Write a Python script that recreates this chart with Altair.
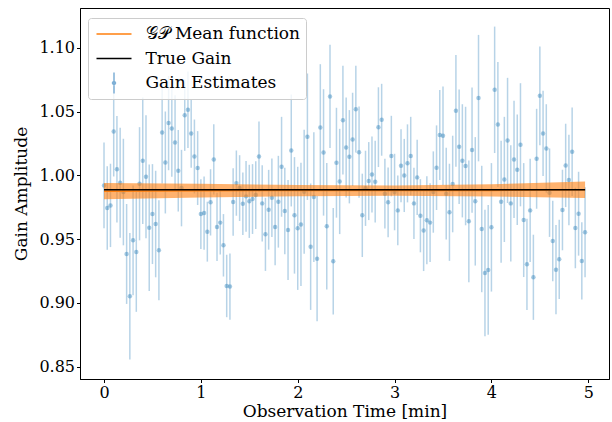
import altair as alt
import pandas as pd

# ---- data ----
time_s = [
    0, 2, 4, 6, 8, 10, 12, 14, 16, 18, 20, 22, 24, 26, 28, 30, 32, 34, 36, 38,
    40, 42, 44, 46, 48, 50, 52, 54, 56, 58, 60, 62, 64, 66, 68, 70, 72, 74, 76, 78,
    80, 82, 84, 86, 88, 90, 92, 94, 96, 98, 100, 102, 104, 106, 108, 110, 112, 114, 116, 118,
    120, 122, 124, 126, 128, 130, 132, 134, 136, 138, 140, 142, 144, 146, 148, 150, 152, 154, 156, 158,
    160, 162, 164, 166, 168, 170, 172, 174, 176, 178, 180, 182, 184, 186, 188, 190, 192, 194, 196, 198,
    200, 202, 204, 206, 208, 210, 212, 214, 216, 218, 220, 222, 224, 226, 228, 230, 232, 234, 236, 238,
    240, 242, 244, 246, 248, 250, 252, 254, 256, 258, 260, 262, 264, 266, 268, 270, 272, 274, 276, 278,
    280, 282, 284, 286, 288, 290, 292, 294, 296, 298,
]

gain_est = [
    0.9921, 0.9744, 0.9764, 1.0344, 1.0047, 0.9942, 0.9869, 0.9383, 0.9051, 0.9490,
    0.9399, 0.9934, 1.0114, 0.9989, 0.9589, 0.9696, 0.9618, 0.9412, 1.0336, 1.0101,
    1.0410, 1.0368, 1.0258, 1.0036, 0.9900, 1.0472, 1.0514, 1.0329, 1.0148, 1.0057,
    0.9696, 0.9704, 0.9558, 0.9788, 1.0125, 0.9595, 0.9629, 0.9451, 0.9132, 0.9127,
    0.9791, 0.9939, 0.9900, 0.9777, 0.9835, 0.9796, 0.9814, 0.9845, 1.0148, 0.9780,
    0.9537, 0.9730, 0.9824, 0.9595, 0.9793, 1.0067, 0.9720, 0.9571, 1.0195, 0.9686,
    0.9584, 0.9615, 0.9871, 1.0303, 0.9440, 0.9830, 0.9346, 1.0376, 1.0180, 0.9600,
    1.0619, 0.9326, 1.0099, 0.9952, 1.0433, 1.0219, 1.0146, 1.0282, 1.0519, 1.0182,
    0.9686, 0.9898, 0.9955, 1.0007, 0.9950, 1.0378, 1.0436, 0.9856, 0.9788, 1.0151,
    0.9869, 0.9725, 1.0075, 0.9999, 1.0094, 1.0151, 0.9780, 0.9984, 0.9683, 0.9568,
    0.9647, 0.9629, 0.9869, 1.0060, 1.0316, 1.0310, 0.9856, 0.9710, 0.9932, 1.0506,
    1.0224, 1.0114, 1.0073, 0.9639, 1.0198, 0.9796, 1.0606, 0.9579, 0.9234, 0.9258,
    0.9592, 1.0671, 1.0399, 0.9793, 0.9968, 1.0274, 0.9780, 1.0125, 1.0044, 1.0240,
    0.9649, 0.9302, 0.9725, 0.9200, 1.0130, 1.0624, 1.0329, 1.0211, 0.9864, 0.9485,
    0.9260, 0.9341, 0.9728, 1.0078, 0.9963, 1.0185, 0.9587, 0.9699, 0.9328, 0.9553,
]

gain_err = [
    0.0337, 0.0327, 0.0327, 0.0353, 0.0418, 0.0431, 0.0418, 0.0392, 0.0496, 0.0431,
    0.0470, 0.0444, 0.0496, 0.0483, 0.0496, 0.0392, 0.0418, 0.0392, 0.0400, 0.0400,
    0.0370, 0.0380, 0.0370, 0.0320, 0.0300, 0.0280, 0.0300, 0.0270, 0.0290, 0.0290,
    0.0274, 0.0287, 0.0235, 0.0260, 0.0275, 0.0268, 0.0250, 0.0245, 0.0245, 0.0260,
    0.0265, 0.0256, 0.0258, 0.0245, 0.0278, 0.0287, 0.0274, 0.0266, 0.0274, 0.0300,
    0.0287, 0.0313, 0.0308, 0.0300, 0.0360, 0.0392, 0.0340, 0.0392, 0.0439, 0.0457,
    0.0483, 0.0483, 0.0486, 0.0496, 0.0496, 0.0509, 0.0491, 0.0496, 0.0496, 0.0496,
    0.0405, 0.0418, 0.0431, 0.0413, 0.0426, 0.0392, 0.0366, 0.0366, 0.0340, 0.0358,
    0.0327, 0.0295, 0.0306, 0.0298, 0.0321, 0.0313, 0.0282, 0.0274, 0.0274, 0.0316,
    0.0300, 0.0274, 0.0287, 0.0287, 0.0306, 0.0308, 0.0280, 0.0295, 0.0287, 0.0319,
    0.0345, 0.0308, 0.0319, 0.0332, 0.0353, 0.0387, 0.0360, 0.0381, 0.0379, 0.0439,
    0.0449, 0.0444, 0.0465, 0.0478, 0.0491, 0.0504, 0.0496, 0.0496, 0.0496, 0.0509,
    0.0504, 0.0496, 0.0491, 0.0478, 0.0491, 0.0491, 0.0457, 0.0460, 0.0434, 0.0483,
    0.0447, 0.0358, 0.0405, 0.0334, 0.0392, 0.0387, 0.0334, 0.0347, 0.0347, 0.0316,
    0.0350, 0.0311, 0.0316, 0.0327, 0.0355, 0.0347, 0.0316, 0.0329, 0.0303, 0.0353,
]

# GP mean function and its uncertainty band
band_t = [0.0, 1.0, 2.0, 3.0, 4.0, 4.967]
band_lo = [0.9812, 0.9826, 0.9836, 0.9840, 0.9834, 0.9822]
band_hi = [0.9940, 0.9934, 0.9925, 0.9921, 0.9930, 0.9952]
gp_mean = [0.9876, 0.9880, 0.9881, 0.9881, 0.9882, 0.9887]

# true gain (constant)
true_t = [0.0, 4.967]
true_gain = [0.9887, 0.9887]

legend_labels = ["\U0001D4A2\U0001D4AB Mean function", "True Gain", "Gain Estimates"]
legend_colors = ["#ff7f0e", "#000000", "#7fb0d6"]
legend_shapes = [
    "M-3.5,0L3.5,0",
    "M-3.5,0L3.5,0",
    "M0,-2.1L0,2.1M0.3,0A0.3,0.3,0,1,1,-0.3,0A0.3,0.3,0,1,1,0.3,0",
]

x_ticks = [0, 1, 2, 3, 4, 5]
y_ticks = [0.85, 0.90, 0.95, 1.00, 1.05, 1.10]

# ---- tables ----
est = pd.DataFrame({
    "t": [s / 60 for s in time_s],
    "g": gain_est,
    "e": gain_err,
})
est["lo"] = est["g"] - est["e"]
est["hi"] = est["g"] + est["e"]

band = pd.DataFrame({"t": band_t, "lo": band_lo, "hi": band_hi, "m": gp_mean})
truth = pd.DataFrame({"t": true_t, "g": true_gain})
leg = pd.DataFrame({"series": legend_labels, "t": [2.0, 2.0, 2.0], "g": [1.0, 1.0, 1.0]})

FONT = "DejaVu Serif"
xs = alt.Scale(domain=[-0.248, 5.214], nice=False, zero=False)
ys = alt.Scale(domain=[0.8402, 1.1313], nice=False, zero=False)

x_axis = alt.Axis(values=x_ticks, format="d", title="Observation Time [min]", grid=False)
y_axis = alt.Axis(values=y_ticks, format=".2f", title="Gain Amplitude", grid=False)

bars = alt.Chart(est).mark_rule(color="#1f77b4", opacity=0.32, strokeWidth=1.5).encode(
    x=alt.X("t:Q", scale=xs, axis=x_axis),
    y=alt.Y("lo:Q", scale=ys, axis=y_axis),
    y2="hi:Q",
)
pts = alt.Chart(est).mark_circle(color="#1f77b4", opacity=0.4, size=20).encode(
    x=alt.X("t:Q", scale=xs),
    y=alt.Y("g:Q", scale=ys),
)
gp_band = alt.Chart(band).mark_area(color="#ff7f0e", opacity=0.6).encode(
    x=alt.X("t:Q", scale=xs),
    y=alt.Y("lo:Q", scale=ys),
    y2="hi:Q",
)
gp_line = alt.Chart(band).mark_line(color="#ff7f0e", strokeWidth=1.5).encode(
    x=alt.X("t:Q", scale=xs),
    y=alt.Y("m:Q", scale=ys),
)
true_line = alt.Chart(truth).mark_line(color="black", strokeWidth=1.5).encode(
    x=alt.X("t:Q", scale=xs),
    y=alt.Y("g:Q", scale=ys),
)

legend_def = alt.Legend(
    title=None, orient="none", legendX=8, legendY=10,
    symbolSize=100, symbolStrokeWidth=1.5, symbolOpacity=1, symbolOffset=12.5,
    labelOffset=23, labelFont=FONT, labelFontSize=17, labelColor="black", labelLimit=400,
    clipHeight=22, rowPadding=2.5, padding=5,
    fillColor="rgba(255,255,255,0.8)", strokeColor="#cccccc", cornerRadius=3,
)
legend_layer = alt.Chart(leg).mark_point(opacity=0, filled=False).encode(
    x=alt.X("t:Q", scale=xs),
    y=alt.Y("g:Q", scale=ys),
    color=alt.Color("series:N", scale=alt.Scale(domain=legend_labels, range=legend_colors),
                    legend=legend_def, sort=legend_labels),
    shape=alt.Shape("series:N", scale=alt.Scale(domain=legend_labels, range=legend_shapes),
                    legend=legend_def, sort=legend_labels),
)

chart = alt.layer(bars, pts, gp_band, gp_line, true_line, legend_layer).properties(
    width=529, height=371,
    autosize=alt.AutoSizeParams(type="none"),
    padding={"left": 80, "top": 8, "right": 3, "bottom": 43},
).configure_view(
    stroke="black", strokeWidth=1,
).configure_axis(
    domain=True, domainColor="black", domainWidth=1,
    ticks=True, tickColor="black", tickWidth=1, tickSize=3.5,
    labelFont=FONT, labelFontSize=16, labelColor="black", labelPadding=2,
    titleFont=FONT, titleFontSize=17, titleFontWeight="normal", titleColor="black",
).configure_axisX(
    titlePadding=3,
).configure_axisY(
    titlePadding=8,
)

chart.save("out.html", embed_options={"renderer": "svg", "actions": False})
